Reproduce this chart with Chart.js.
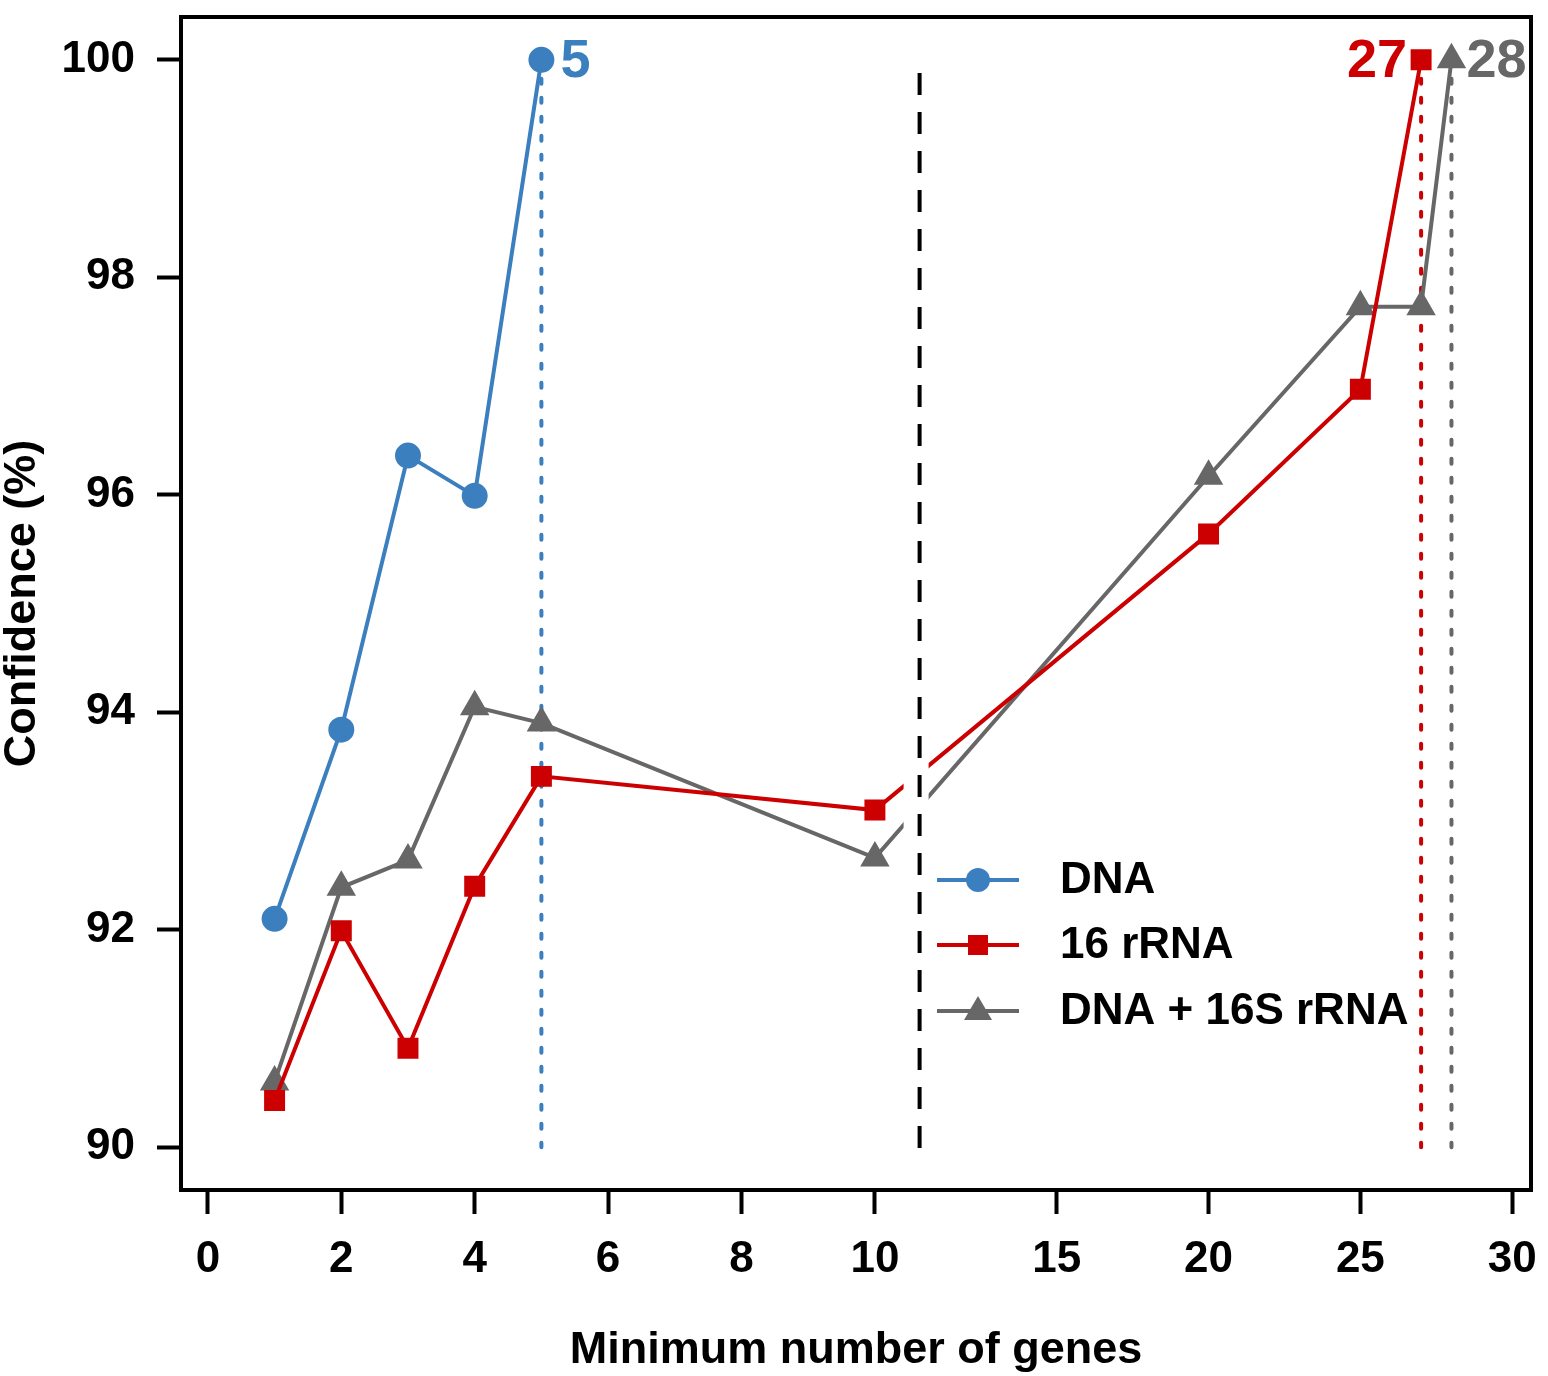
<!DOCTYPE html>
<html>
<head>
<meta charset="utf-8">
<script src="https://cdn.jsdelivr.net/npm/chart.js@4"></script>
<style>
  html, body { margin: 0; padding: 0; background: #fff; }
  #wrap { width: 1548px; height: 1376px; }
</style>
</head>
<body>
<div id="wrap"><canvas id="confChart" width="1548" height="1376"></canvas></div>
<script>
// Data
var dnaX = [1, 2, 3, 4, 5];
var dnaY = [92.10, 93.84, 96.36, 95.99, 100];
var rrnaX = [1, 2, 3, 4, 5, 10, 20, 25, 27];
var rrnaY = [90.43, 91.99, 90.91, 92.40, 93.41, 93.10, 95.64, 96.97, 100];
var bothX = [1, 2, 3, 4, 5, 10, 20, 25, 27, 28];
var bothY = [90.60, 92.39, 92.64, 94.05, 93.90, 92.66, 96.17, 97.73, 97.73, 100];
var cutoffs = [5, 27, 28];            // where each series reaches 100 %
var seriesNames = ['DNA', '16 rRNA', 'DNA + 16S rRNA'];
var xTickVals = [0, 2, 4, 6, 8, 10, 15, 20, 25, 30];
var yTickVals = [90, 92, 94, 96, 98, 100];

var colors = ['#3b7fbf', '#cc0000', '#676767'];
var FONT = "'Liberation Sans', Arial, sans-serif";

// broken x axis: 0-10 at full scale, 10-30 compressed
function xDisp(x) {
  return x <= 10 ? x : 10.45 + (x - 10) * 0.4552;
}
var breakPos = 10.67; // dashed break line, in display units

function pts(xs, ys) {
  return xs.map(function (x, i) { return { x: xDisp(x), y: ys[i] }; });
}
function vline(x, color) {
  return {
    data: [{ x: xDisp(x), y: 100 }, { x: xDisp(x), y: 90 }],
    borderColor: color, borderWidth: 4, borderDash: [5, 14],
    borderCapStyle: 'round', pointRadius: 0, order: 5
  };
}
function noPad(s) {
  s.paddingTop = 0; s.paddingBottom = 0; s.paddingLeft = 0; s.paddingRight = 0;
}

var breakPlugin = {
  id: 'breakAndLabels',
  afterDatasetsDraw: function (chart) {
    var ctx = chart.ctx, xs = chart.scales.x, ys = chart.scales.y, a = chart.chartArea;
    var bx = xs.getPixelForValue(breakPos);
    ctx.save();
    // gap in the lines at the axis break
    ctx.fillStyle = '#fff';
    ctx.fillRect(bx - 16, a.top + 2, 25, a.bottom - a.top - 4);
    // dashed break line
    ctx.strokeStyle = '#000';
    ctx.lineWidth = 4;
    ctx.setLineDash([22, 17]);
    ctx.beginPath();
    ctx.moveTo(bx, ys.getPixelForValue(99.88));
    ctx.lineTo(bx, ys.getPixelForValue(89.98));
    ctx.stroke();
    ctx.setLineDash([]);

    // cutoff numbers next to the 100 % points
    ctx.font = 'bold 54px ' + FONT;
    ctx.textBaseline = 'middle';
    var y100 = ys.getPixelForValue(100);
    var offs = [19, -14, 15];
    cutoffs.forEach(function (c, i) {
      ctx.fillStyle = colors[i];
      ctx.textAlign = offs[i] < 0 ? 'right' : 'left';
      ctx.fillText(String(c), xs.getPixelForValue(xDisp(c)) + offs[i], y100 + 2);
    });

    // legend
    var lx = 937, rows = [880, 945, 1011];
    seriesNames.forEach(function (name, i) {
      var y = rows[i];
      ctx.strokeStyle = colors[i];
      ctx.fillStyle = colors[i];
      ctx.lineWidth = 4;
      ctx.beginPath();
      ctx.moveTo(lx, y);
      ctx.lineTo(lx + 82, y);
      ctx.stroke();
      var cx = lx + 41;
      ctx.beginPath();
      if (i === 0) {
        ctx.arc(cx, y, 12, 0, Math.PI * 2);
      } else if (i === 1) {
        ctx.rect(cx - 10, y - 10, 20, 20);
      } else {
        ctx.moveTo(cx, y - 15);
        ctx.lineTo(cx + 14, y + 9);
        ctx.lineTo(cx - 14, y + 9);
        ctx.closePath();
      }
      ctx.fill();
      ctx.fillStyle = '#000';
      ctx.textAlign = 'left';
      ctx.font = 'bold 44px ' + FONT;
      ctx.fillText(name, 1060, y + 1);
    });
    ctx.restore();
  },
  afterDraw: function (chart) {
    var ctx = chart.ctx, a = chart.chartArea;
    ctx.save();
    ctx.strokeStyle = '#000';
    ctx.lineWidth = 4;
    ctx.strokeRect(a.left, a.top, a.right - a.left, a.bottom - a.top);
    ctx.restore();
  }
};

var ctx = document.getElementById('confChart').getContext('2d');
var confChart = new Chart(ctx, {
  type: 'line',
  data: {
    datasets: [
      {
        label: seriesNames[0], data: pts(dnaX, dnaY),
        borderColor: colors[0], backgroundColor: colors[0], borderWidth: 4,
        pointStyle: 'circle', pointRadius: 11, order: 0
      },
      {
        label: seriesNames[1], data: pts(rrnaX, rrnaY),
        borderColor: colors[1], backgroundColor: colors[1], borderWidth: 4,
        pointStyle: 'rect', pointRadius: 12, order: 1
      },
      {
        label: seriesNames[2], data: pts(bothX, bothY),
        borderColor: colors[2], backgroundColor: colors[2], borderWidth: 4,
        pointStyle: 'triangle', pointRadius: 13, order: 2
      },
      vline(cutoffs[0], colors[0]),
      vline(cutoffs[1], colors[1]),
      vline(cutoffs[2], colors[2])
    ]
  },
  options: {
    responsive: false,
    animation: false,
    layout: { padding: { top: 12, right: 11, left: 0, bottom: 0 } },
    elements: { line: { tension: 0 }, point: { borderWidth: 0 } },
    plugins: { legend: { display: false }, tooltip: { enabled: false } },
    scales: {
      x: {
        type: 'linear', min: -0.403, max: 19.836,
        afterBuildTicks: function (s) {
          s.ticks = xTickVals.map(function (v) { return { value: xDisp(v) }; });
        },
        afterFit: function (s) { s.height = 186; noPad(s); },
        grid: { drawOnChartArea: false, drawTicks: true, tickLength: 24, tickWidth: 4, tickColor: '#000' },
        border: { display: false },
        ticks: {
          autoSkip: false, maxRotation: 0, padding: 19, color: '#000',
          font: { family: FONT, size: 44, weight: 'bold' },
          callback: function (v, i) { return String(xTickVals[i]); }
        },
        title: {
          display: true, text: 'Minimum number of genes', color: '#000',
          font: { family: FONT, size: 45, weight: 'bold', lineHeight: 1 },
          padding: { top: 0, bottom: 3 }
        }
      },
      y: {
        type: 'linear', min: 89.606, max: 100.394,
        afterBuildTicks: function (s) {
          s.ticks = yTickVals.map(function (v) { return { value: v }; });
        },
        afterFit: function (s) { s.width = 181; noPad(s); },
        grid: { drawOnChartArea: false, drawTicks: true, tickLength: 24, tickWidth: 4, tickColor: '#000' },
        border: { display: false },
        ticks: {
          padding: 22, color: '#000',
          font: { family: FONT, size: 44, weight: 'bold' },
          callback: function (v) { return String(v); }
        },
        title: {
          display: true, text: 'Confidence (%)', color: '#000',
          font: { family: FONT, size: 45, weight: 'bold', lineHeight: 1 },
          padding: { top: 0, bottom: 0 }
        }
      }
    }
  },
  plugins: [breakPlugin]
});
</script>
</body>
</html>
